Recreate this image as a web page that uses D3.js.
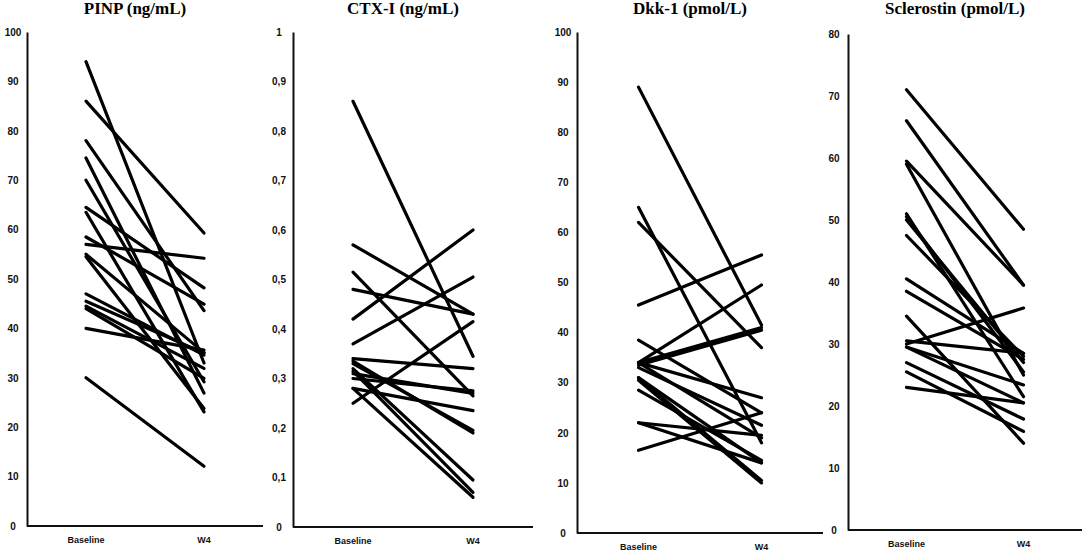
<!DOCTYPE html>
<html>
<head>
<meta charset="utf-8">
<script src="https://cdn.jsdelivr.net/npm/d3@7"></script>
<style>
  body { margin: 0; background: #fff; }
  .title { font-family: "Liberation Serif", "Times New Roman", serif; font-weight: bold; font-size: 17px; }
  .tick text { font-family: "Liberation Sans", Arial, sans-serif; font-weight: bold; font-size: 10px; fill: #111; }
  .cat { font-family: "Liberation Sans", Arial, sans-serif; font-weight: bold; font-size: 9px; fill: #111; }
  .domain { stroke: #111; stroke-width: 2; }
  .subject { fill: none; stroke: #000; stroke-width: 3.2; stroke-linecap: round; }
</style>
</head>
<body>
<div id="chart"></div>
<script>
// time points
var categories = ["Baseline", "W4"];

// PINP (ng/mL)
var pinpBaseline = [94, 86, 78, 74.5, 70, 64.5, 63.5, 58.5, 57, 55, 54.5, 47, 45.5, 44.5, 44, 40, 30];
var pinpW4       = [33, 59.3, 43.6, 26.9, 29.2, 48.2, 23.1, 44.9, 54.2, 35.1, 23.8, 34.6, 35, 31.9, 29.9, 35.6, 12.1];

// CTX-I (ng/mL)
var ctxBaseline = [0.86, 0.57, 0.515, 0.48, 0.42, 0.37, 0.34, 0.335, 0.33, 0.315, 0.31, 0.30, 0.32, 0.28, 0.28, 0.25];
var ctxW4       = [0.345, 0.43, 0.265, 0.43, 0.60, 0.505, 0.32, 0.19, 0.195, 0.07, 0.27, 0.275, 0.095, 0.235, 0.06, 0.415];

// Dkk-1 (pmol/L)
var dkkBaseline = [89, 65, 62, 45.5, 34, 34, 33.5, 38.5, 34, 33, 34, 31, 31, 30.5, 28.5, 22, 22, 16.5];
var dkkW4       = [41.5, 18, 37, 55.5, 49.5, 41, 40.5, 24, 27, 21.5, 19, 14, 10.5, 10, 14.5, 19.5, 14, 24];

// Sclerostin (pmol/L)
var sostBaseline = [71, 66, 59.5, 59, 51, 50.5, 50, 47.5, 40.5, 38.5, 34.5, 30.5, 30, 29.5, 29.5, 27, 25.5, 23];
var sostW4       = [48.5, 39.5, 39.5, 25, 21.5, 25.5, 27, 28, 28.5, 27.5, 14, 28.5, 35.8, 23.4, 20.5, 17.9, 15.9, 20.5];

var titles = ["PINP (ng/mL)", "CTX-I (ng/mL)", "Dkk-1 (pmol/L)", "Sclerostin (pmol/L)"];
var yMax = [100, 1, 100, 80];
var yStep = [10, 0.1, 10, 10];

var commaLocale = d3.formatLocale({decimal: ",", thousands: ".", grouping: [3], currency: ["", ""]});
var fmt = commaLocale.format("~g");

var svg = d3.select("#chart")
  .append("svg")
  .attr("width", 1084)
  .attr("height", 552);

// panel frames (axis x start, axis x end, y of zero, y of max)
var frames = [
  {x0: 27,  x1: 263,  yb: 526, yt: 32},
  {x0: 293, x1: 533,  yb: 527, yt: 32},
  {x0: 577, x1: 823,  yb: 533, yt: 32},
  {x0: 848, x1: 1082, yb: 530, yt: 34}
];

drawPanel(0, pinpBaseline, pinpW4);
drawPanel(1, ctxBaseline, ctxW4);
drawPanel(2, dkkBaseline, dkkW4);
drawPanel(3, sostBaseline, sostW4);

function drawPanel(i, base, w4) {
  var f = frames[i];

  var x = d3.scalePoint()
    .domain(categories)
    .range([f.x0, f.x1])
    .padding(0.5);

  var y = d3.scaleLinear()
    .domain([0, yMax[i]])
    .range([f.yb, f.yt]);

  var g = svg.append("g");

  var ticks = d3.range(0, yMax[i] + yStep[i] / 2, yStep[i]).map(function(v) { return +v.toFixed(2); });

  var yAxis = g.append("g")
    .attr("transform", "translate(" + f.x0 + ",0)")
    .call(d3.axisLeft(y).tickValues(ticks).tickFormat(fmt).tickSize(0).tickSizeOuter(0));
  yAxis.selectAll(".tick text")
    .attr("x", -14)
    .style("text-anchor", "middle");

  // x axis line
  g.append("line")
    .attr("class", "domain")
    .attr("x1", f.x0)
    .attr("x2", f.x1)
    .attr("y1", f.yb)
    .attr("y2", f.yb);

  g.selectAll(".cat")
    .data(categories)
    .enter()
    .append("text")
    .attr("class", "cat")
    .attr("x", function(d) { return x(d); })
    .attr("y", f.yb + 14)
    .attr("dy", ".35em")
    .style("text-anchor", "middle")
    .text(function(d) { return d; });

  var pairs = base.map(function(b, k) { return [b, w4[k]]; });

  g.selectAll(".subject")
    .data(pairs)
    .enter()
    .append("path")
    .attr("class", "subject")
    .attr("d", function(d) {
      return "M" + x(categories[0]) + "," + y(d[0]) + "L" + x(categories[1]) + "," + y(d[1]);
    });

  g.append("text")
    .attr("class", "title")
    .attr("x", (x(categories[0]) + x(categories[1])) / 2 - 10)
    .attr("y", 14)
    .style("text-anchor", "middle")
    .text(titles[i]);
}
</script>
</body>
</html>
